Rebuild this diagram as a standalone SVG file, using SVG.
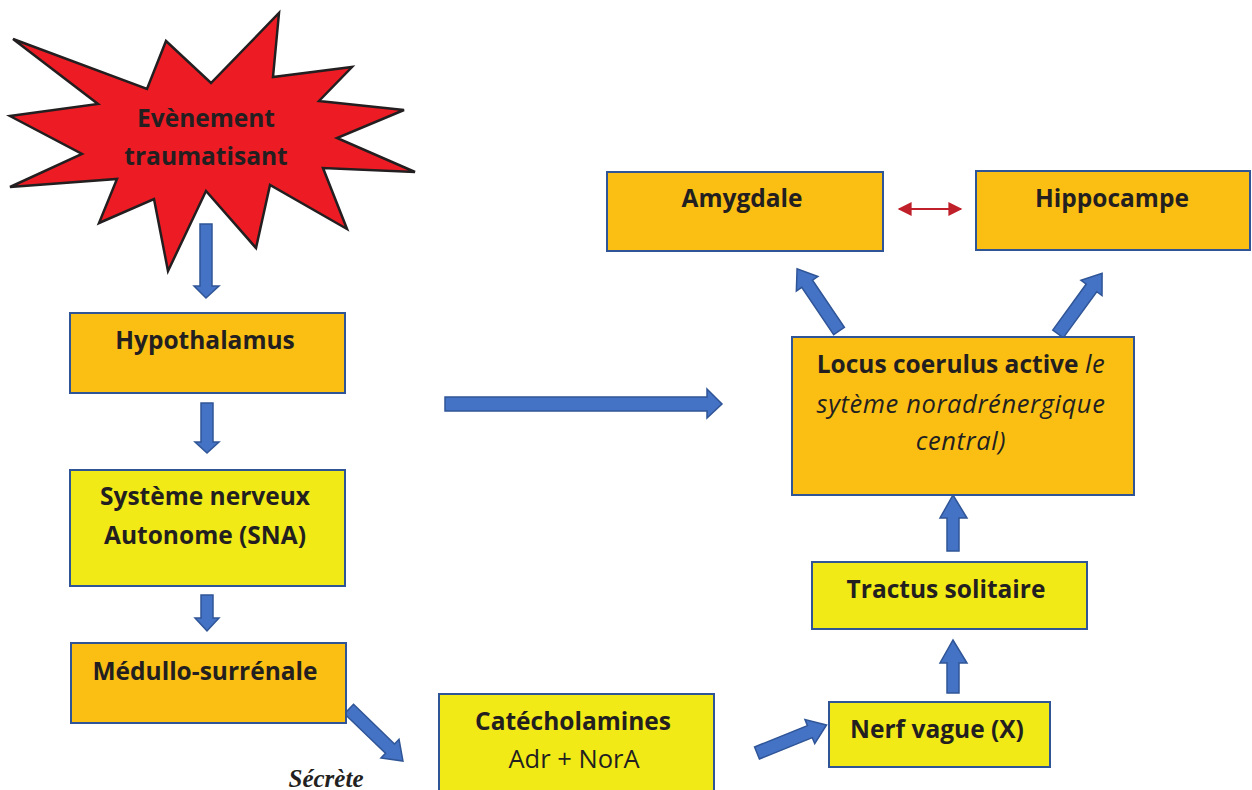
<svg xmlns="http://www.w3.org/2000/svg" width="1252" height="790" viewBox="0 0 1252 790">
<style>
.box{stroke:#2F5597;stroke-width:2}
.or{fill:#FBBF14}
.ye{fill:#F2EA17}
.t{font-family:"Open Sans",Lato,"Liberation Sans",sans-serif;font-weight:bold;font-size:24.5px;fill:#231F20;text-anchor:middle}
.it{font-style:italic;font-weight:normal;font-size:25.5px;letter-spacing:0.6px}
.rg{font-weight:normal;font-size:25.5px}
.arr{fill:#4472C4;stroke:#2F5597;stroke-width:1.5;stroke-linejoin:miter}
</style>
<defs>
<polygon id="a75" points="0,-6.5 57,-6.5 57,-13 75,0 57,13 57,6.5 0,6.5"/>
<marker id="rh" viewBox="0 0 10 10" refX="9" refY="5" markerWidth="15" markerHeight="14" markerUnits="userSpaceOnUse" orient="auto-start-reverse"><path d="M0,0 L10,5 L0,10 z" fill="#C0202A"/></marker>
</defs>
<rect width="1252" height="790" fill="#FFFFFF"/>

<g id="connectors">
<polygon class="arr" points="200,224 212,224 212,286 219,286 206,298 194,286 200,286"/>
<polygon class="arr" points="201,403 213,403 213,442 219,442 207,453 195,442 201,442"/>
<polygon class="arr" points="201,595 213,595 213,618 219,618 207,631 195,618 201,618"/>
<polygon class="arr" points="445,397 707,397 707,389 722,404 707,418 707,411 445,411"/>
<polygon class="arr" points="947,693 959,693 959,663 967,663 953,640 940,663 947,663"/>
<polygon class="arr" points="947,551 959,551 959,518 967,518 953,495 940,518 947,518"/>
<use href="#a75" class="arr" transform="translate(349,709) rotate(44)"/>
<use href="#a75" class="arr" transform="translate(757,753) rotate(-22)"/>
<use href="#a75" class="arr" transform="translate(839,331) rotate(-124)"/>
<use href="#a75" class="arr" transform="translate(1058,334) rotate(-54)"/>
<line x1="899" y1="209" x2="961" y2="209" stroke="#C0202A" stroke-width="2" marker-start="url(#rh)" marker-end="url(#rh)"/>
</g>

<g id="star">
<polygon points="13,39 147,89 166,41 211,83 279,13 273,77 352,67 319,101 404,110 337,138 415,172 323,168 347,229 270,185 256,248 206,191 168,271 154,199 99,223 117,179 10,187 82,154 10,116 98,104" fill="#ED1C24" stroke="#231F20" stroke-width="2.5" stroke-linejoin="miter"/>
<text class="t" x="206" y="127">Evènement</text>
<text class="t" x="206" y="165">traumatisant</text>
</g>

<g id="hypothalamus">
<rect class="box or" x="70" y="313" width="275" height="80"/>
<text class="t" x="205" y="349">Hypothalamus</text>
</g>

<g id="sna">
<rect class="box ye" x="70" y="470" width="275" height="116"/>
<text class="t" x="205" y="505">Système nerveux</text>
<text class="t" x="205" y="544">Autonome (SNA)</text>
</g>

<g id="medullo">
<rect class="box or" x="71" y="643" width="275" height="80"/>
<text class="t" x="205" y="680">Médullo-surrénale</text>
</g>

<g id="secrete">
<text x="326" y="787" font-family="'Liberation Serif',serif" font-style="italic" font-weight="bold" font-size="25" fill="#231F20" text-anchor="middle">Sécrète</text>
</g>

<g id="catecholamines">
<rect class="box ye" x="439" y="694" width="275" height="110"/>
<text class="t" x="573" y="730">Catécholamines</text>
<text class="t rg" x="574" y="768">Adr + NorA</text>
</g>

<g id="nerf">
<rect class="box ye" x="829" y="702" width="221" height="65"/>
<text class="t" x="937" y="738">Nerf vague (X)</text>
</g>

<g id="tractus">
<rect class="box ye" x="812" y="562" width="275" height="67"/>
<text class="t" x="946" y="598">Tractus solitaire</text>
</g>

<g id="locus">
<rect class="box or" x="792" y="337" width="342" height="158"/>
<text class="t" x="961" y="373">Locus coerulus active <tspan class="it">le</tspan></text>
<text class="t it" x="961" y="413">sytème noradrénergique</text>
<text class="t it" x="961" y="450">central)</text>
</g>

<g id="amygdale">
<rect class="box or" x="607" y="172" width="276" height="79"/>
<text class="t" x="742" y="207">Amygdale</text>
</g>

<g id="hippocampe">
<rect class="box or" x="976" y="171" width="274" height="79"/>
<text class="t" x="1112" y="207">Hippocampe</text>
</g>
</svg>
